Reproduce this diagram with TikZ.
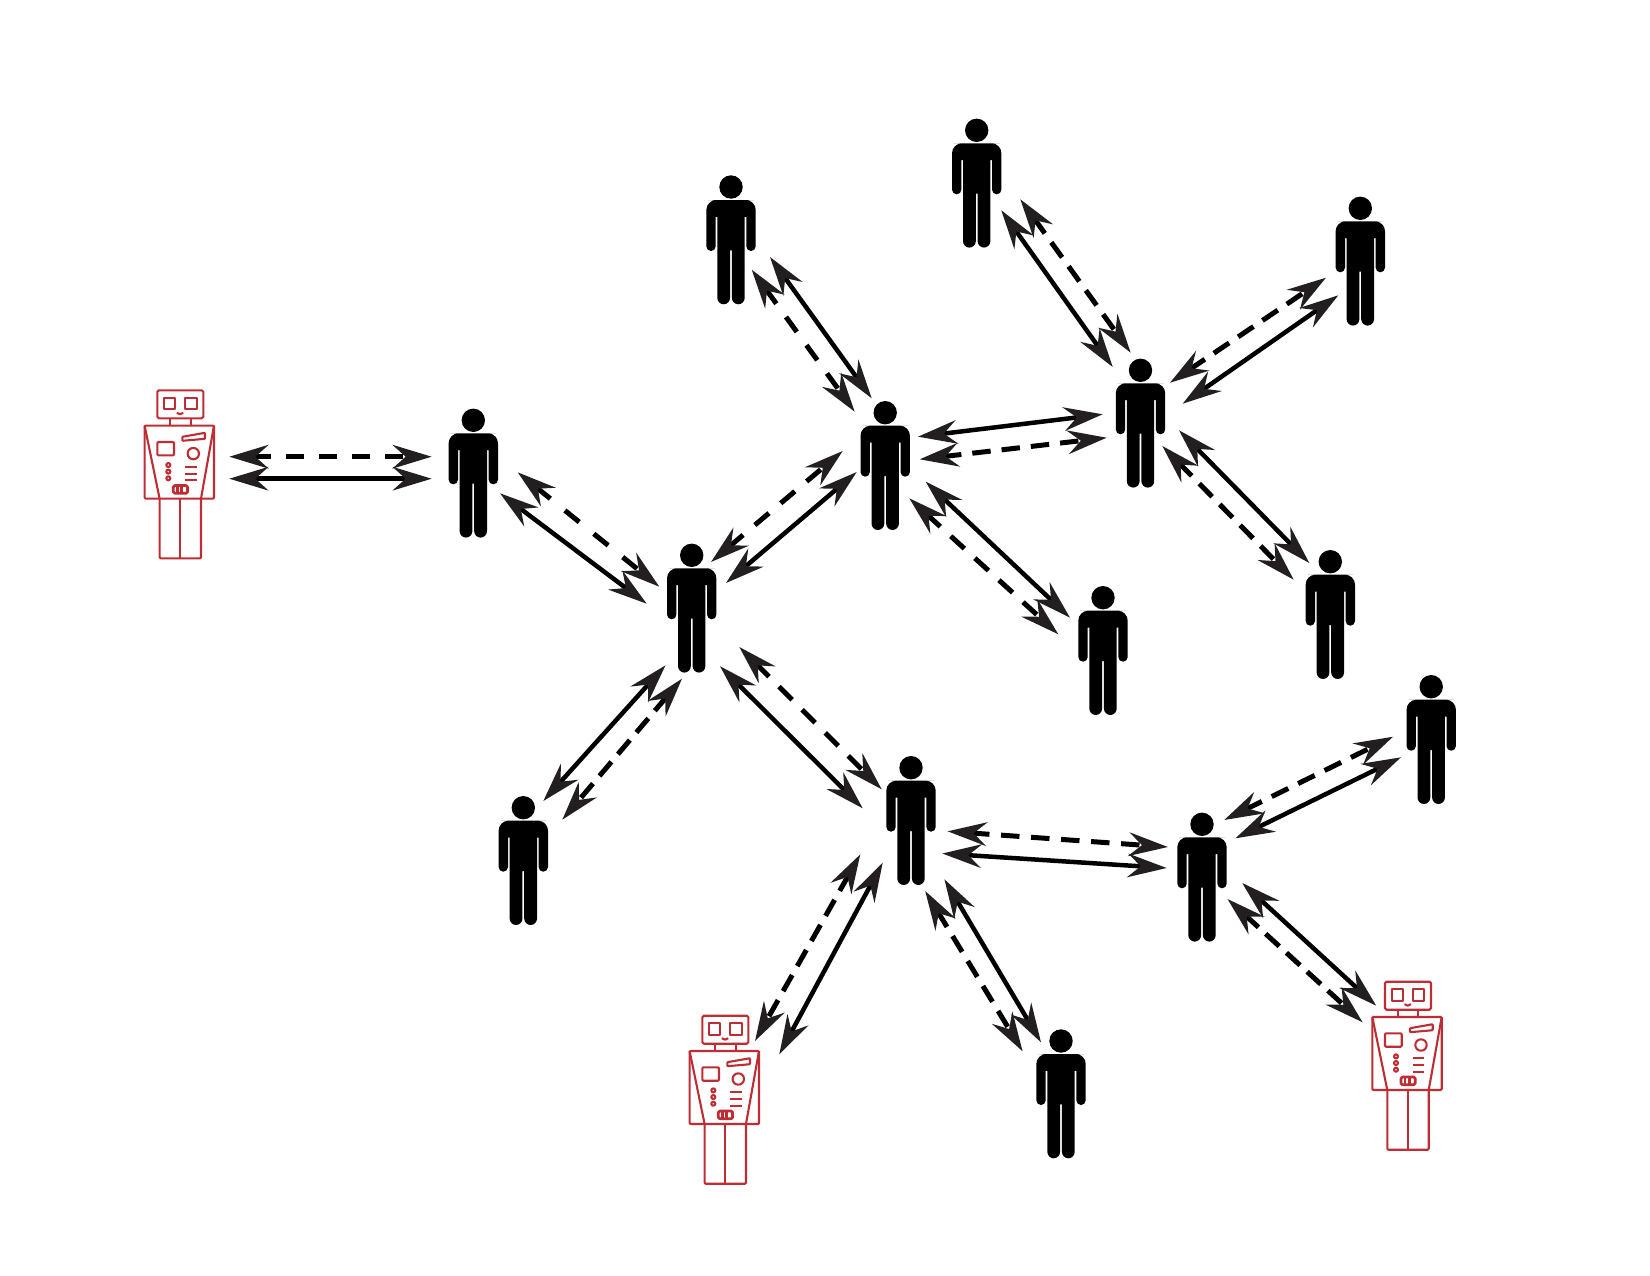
\documentclass[tikz,border=0pt]{standalone}
\usepackage{tikz}
\usetikzlibrary{arrows.meta,calc}
\definecolor{robotred}{HTML}{BE2D33}
\definecolor{tipblack}{HTML}{231F20}

% Figure of a person, origin at the middle of the figure
\newcommand{\personfig}{
  \fill (0,-52.8) circle[radius=.234cm];
  \fill[rounded corners=2mm] (-13,-39.8) -- (-24.7,-39.8) -- (-24.7,-15)
    [rounded corners=.94mm] -- (-24.7,11.2) -- (-15.3,11.2) [sharp corners] -- (-15.3,-23) -- (-13.7,-23)
    [rounded corners=1.3mm] -- (-13.7,64.5) -- (-.9,64.5) [sharp corners] -- (-.9,10.5) -- (.9,10.5)
    [rounded corners=1.3mm] -- (.9,64.5) -- (13.7,64.5) [sharp corners] -- (13.7,-23) -- (15.3,-23)
    [rounded corners=.94mm] -- (15.3,11.2) -- (24.7,11.2) [rounded corners=2mm] -- (24.7,-39.8) -- (13,-39.8) -- cycle;
}
% Figure of a robot, origin at the middle of the figure
\newcommand{\robotfig}{
  \begin{scope}[draw=robotred, line width=.042cm, line join=round]
    % head
    \draw[rounded corners=.3mm] (-22,-84) rectangle (24,-56);
    \draw (-15,-76.7) rectangle (-4,-65);
    \draw (5.7,-76.7) rectangle (17.3,-65);
    \draw (-2.5,-61.5) .. controls (-1,-59.6) and (2.5,-59.6) .. (4,-61.5);
    \draw (-9.3,-56) -- (-9.3,-48.7);
    \draw (11.3,-56) -- (11.3,-48.7);
    % body
    \draw[rounded corners=.2mm] (-34.7,-48.7) rectangle (34.7,24.3);
    \draw (-34.7,-48.7) -- (-19.7,24.3);
    \draw (34.7,-48.7) -- (21.7,24.3);
    % legs
    \draw[rounded corners=.2mm] (-19.7,24.3) -- (-19.7,84) -- (21.7,84) -- (21.7,24.3);
    \draw (.7,24.3) -- (.7,84);
    % chest panel
    \draw[rounded corners=.2mm] (-22,-32.3) rectangle (-5.3,-19);
    \draw[rounded corners=.15mm] (3,-37.5) -- (25.7,-41.5) -- (25.7,-35.5) -- (3,-33.5) -- cycle;
    \draw (14,-20.7) circle[radius=.114cm];
    \foreach \yy in {-9.3,-2.7,4} {
      \draw (-11,\yy) circle[radius=.04cm];
    }
    \foreach \yy in {-7.3,-.7,6} {
      \draw (5.7,\yy) -- (17.3,\yy);
    }
    \draw[rounded corners=.3mm, line width=.055cm] (-6,11.3) rectangle (8.3,19);
    \draw[line width=.055cm] (-2,11.3) -- (-2,19);
    \draw[line width=.055cm] (2.5,11.3) -- (2.5,19);
  \end{scope}
}

\tikzset{
  person/.style={inner sep=0pt, minimum width=1.02cm, minimum height=2.6cm,
    path picture={\begin{scope}[shift={(path picture bounding box.center)}]\personfig\end{scope}}},
  robot/.style={inner sep=0pt, minimum width=1.48cm, minimum height=3.44cm,
    path picture={\begin{scope}[shift={(path picture bounding box.center)}]\robotfig\end{scope}}},
  link/.style={<->, >={Stealth[length=.78cm, width=.47cm, inset=.26cm, color=tipblack]}, line width=.09cm, black},
  dashlink/.style={link, line width=.1cm}
}

\begin{document}
\begin{tikzpicture}[x=.02cm, y=-.02cm]
  % Fixed bounding box
  \path[use as bounding box] (0,0) rectangle (1650,1275);

  % Robots
  \node[robot] (rl) at (179.3,474.3) {};
  \node[robot] (rb) at (724.3,1099.7) {};
  \node[robot] (rr) at (1407,1065.7) {};

  % People
  \node[person] (pa) at (473.3,473.1) {};
  \node[person] (pc) at (691.7,608.1) {};
  \node[person] (pu) at (885.2,465.5) {};
  \node[person] (pr) at (1140.5,423.1) {};
  \node[person] (ptl) at (731,239.8) {};
  \node[person] (ptm) at (976.7,183.1) {};
  \node[person] (ptr) at (1360.3,261.1) {};
  \node[person] (plm) at (1103,650.5) {};
  \node[person] (plr) at (1330.3,614.5) {};
  \node[person] (pw) at (523.3,860.5) {};
  \node[person] (pb) at (911,820.5) {};
  \node[person] (ph) at (1202,877.1) {};
  \node[person] (pe) at (1431.2,739.5) {};
  \node[person] (pz) at (1061,1093.8) {};

  % Solid arrows: node, offset, node, offset
  \foreach \a/\ax/\ay/\b/\bx/\by in {
    rl/50/4.4/pa/-41.6/5.6,
    pa/26.7/20.2/pc/-45/-4.4,
    pc/34.3/-25.1/pu/-28.5/6.5,
    pc/-26.2/57.2/pw/20/-59.5,
    pc/28.3/58.1/pb/-48.3/-12.2,
    ptl/39/17.2/pu/-13.5/-67.2,
    ptm/24.6/27.2/pr/-27.8/-56.1,
    pu/32.8/-28.8/pr/-37.8/-8.8,
    pu/40.5/16.2/plm/-33/-32.8,
    pr/38.5/7.2/plr/-21/-51.5,
    pr/42.2/-19.4/ptr/-22/34.2,
    pb/31.3/33/ph/-35.3/-9.1,
    ph/33.4/-38.8/pe/-30.2/17.8,
    ph/40.2/5.9/rr/-30.8/-60,
    pb/33.4/58.8/pz/-20/-51.5,
    pb/-28.3/42.2/rb/55/-45.4} {
    \draw[link] ($(\a)+(\ax,\ay)$) -- ($(\b)+(\bx,\by)$);
  }

  % Dashed arrows: the gap is fitted so that a dash meets each arrow head
  \foreach \a/\ax/\ay/\b/\bx/\by in {
    rl/50/-17.6/pa/-41.6/-16.4,
    pa/44.4/-.8/pc/-32.4/-21.4,
    pc/19.3/-46.1/pu/-42.5/-14.5,
    pc/-9.7/70.6/pw/39/-40.8,
    pc/47.6/38.9/pb/-29.3/-31.2,
    ptl/20.7/29.9/pu/-30.5/-53.8,
    ptm/43.6/16.2/pr/-9.8/-70.4,
    pu/34.5/-6.2/pr/-33.8/14.6,
    pu/24.1/32.8/plm/-44.7/-16.2,
    pr/21.8/22.9/plr/-36.6/-34.8,
    pr/29.5/-40.4/ptr/-34.3/16.6,
    pb/36.6/10.8/ph/-34.1/-30.1,
    ph/22.2/-57.1/pe/-38.1/-2.8,
    ph/25.5/21.9/rr/-44.4/-43.4,
    pb/14.2/70.5/pz/-38.4/-42.5,
    pb/-50.7/33.8/rb/30.7/-58.7} {
    \coordinate (s) at ($(\a)+(\ax,\ay)$);
    \coordinate (e) at ($(\b)+(\bx,\by)$);
    \path let \p1=($(e)-(s)$) in \pgfextra{\pgfmathsetmacro{\ll}{veclen(\x1,\y1)}\xdef\linelen{\ll}};
    \pgfmathsetmacro{\dashcount}{round((\linelen-29.6+7.7)/18.2)}
    \pgfmathsetmacro{\dashgap}{(\linelen-29.6-\dashcount*10.5)/(\dashcount-1)}
    \draw[dashlink, dash pattern=on 10.5pt off \dashgap pt] (s) -- (e);
  }
\end{tikzpicture}
\end{document}
